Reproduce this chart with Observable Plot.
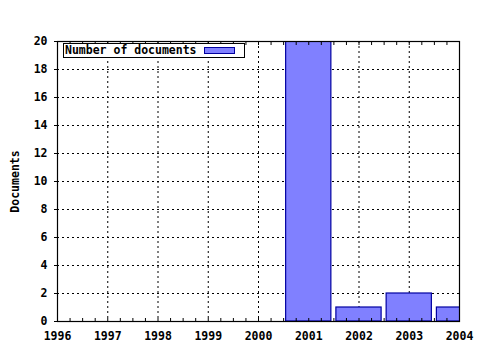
<!DOCTYPE html>
<html>
<head>
<meta charset="utf-8">
<script src="https://cdn.jsdelivr.net/npm/d3@7"></script>
<script src="https://cdn.jsdelivr.net/npm/@observablehq/plot@0.6"></script>
<style>
  html, body { margin: 0; padding: 0; background: #fff; }
  #wrap { position: relative; width: 480px; height: 350px; }
  #legend {
    position: absolute; left: 63px; top: 43px; width: 180px; height: 13px;
    border: 1px solid #000; background: #fff;
    font-family: "DejaVu Sans Mono", monospace; font-weight: bold; font-size: 11.5px;
    line-height: 13px; box-sizing: content-box;
  }
  #legend span.t { position: absolute; left: 1px; top: 0; white-space: nowrap; }
  #legend span.s { position: absolute; left: 140px; top: 3px; width: 29px; height: 5px;
    background: #8080ff; border: 1px solid #0000a0; }
</style>
</head>
<body>
<div id="wrap"><div id="chart"></div>
<div id="legend"><span class="t">Number of documents</span><span class="s"></span></div>
</div>
<script>
const years = [1996, 1997, 1998, 1999, 2000, 2001, 2002, 2003, 2004];
const counts = [0, 0, 0, 0, 0, 20, 1, 2, 1];
const yTicks = [0, 2, 4, 6, 8, 10, 12, 14, 16, 18, 20];
const minorX = d3.range(1996, 2004.001, 0.25);

const data = years.map((y, i) => ({year: y, count: counts[i]})).filter(d => d.count > 0);

const font = {fontFamily: "DejaVu Sans Mono, monospace", fontWeight: "bold", fontSize: "11.5px", background: "#fff", color: "#000", overflow: "visible"};

const chart = Plot.plot({
  width: 480,
  height: 350,
  marginLeft: 57,
  marginRight: 21,
  marginTop: 41,
  marginBottom: 29,
  style: font,
  x: {domain: [1996, 2004]},
  y: {domain: [0, 20]},
  marks: [
    Plot.gridX(years, {stroke: "#000", strokeOpacity: 1, strokeDasharray: "2,3"}),
    Plot.gridY(yTicks, {stroke: "#000", strokeOpacity: 1, strokeDasharray: "2,3"}),
    Plot.rectY(data, {x1: d => d.year - 0.45, x2: d => d.year + 0.45, y1: 0, y2: "count", fill: "#8080ff", stroke: "#0000a0", strokeWidth: 1.2, clip: true}),
    Plot.frame({stroke: "#000", strokeWidth: 1.2}),
    Plot.axisX(minorX, {anchor: "bottom", tickSize: -3, tickFormat: () => "", label: null}),
    Plot.axisX(minorX, {anchor: "top", tickSize: -3, tickFormat: () => "", label: null}),
    Plot.axisX(years, {anchor: "bottom", tickSize: 0, tickPadding: 10, tickFormat: d => String(d), label: null}),
    Plot.axisY(yTicks, {anchor: "left", tickSize: 3, tickPadding: 7, label: "Documents", labelAnchor: "center", labelOffset: 47, labelArrow: "none"})
  ]
});
document.getElementById("chart").appendChild(chart);
</script>
</body>
</html>
